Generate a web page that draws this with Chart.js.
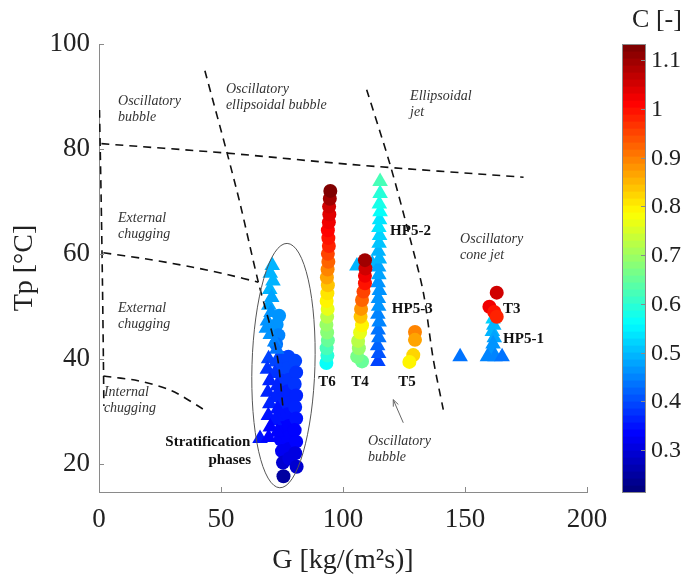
<!DOCTYPE html>
<html lang="en">
<head>
  <meta charset="UTF-8">
  <title>Flow regime map</title>
  <script src="https://cdn.jsdelivr.net/npm/chart.js"></script>
  <style>
    html, body { margin: 0; padding: 0; background: #fff; }
    #wrap { width: 689px; height: 583px; }
  </style>
</head>
<body>
<div id="wrap"><canvas id="regimeChart"></canvas></div>
<script>
  // ---- measured series: G [kg/(m2 s)], Tp [degC], C [-] ----
  const t6G  = [93.2, 93.6, 93.3, 93.8, 93.5, 93.2, 93.5, 93.7, 93.3, 93.6, 93.8, 93.4, 93.7, 94.0, 93.8, 94.2, 94.0, 93.8, 94.2, 94.4, 94.3, 94.6, 94.8];
  const t6Tp = [39.2, 40.6, 42.0, 43.5, 45.0, 46.5, 48.0, 49.5, 51.0, 52.5, 54.0, 55.5, 57.0, 58.5, 60.0, 61.5, 63.0, 64.5, 66.0, 67.5, 69.0, 70.5, 72.0];
  const t6C  = [0.57, 0.59, 0.62, 0.65, 0.68, 0.70, 0.73, 0.76, 0.79, 0.81, 0.84, 0.87, 0.90, 0.93, 0.96, 0.98, 1.00, 1.01, 1.02, 1.04, 1.06, 1.09, 1.12];

  const t4G  = [107.8, 105.8, 106.5, 106.2, 107.0, 107.8, 107.2, 107.4, 107.8, 108.4, 109.0, 109.0, 109.2, 109.0];
  const t4Tp = [39.5, 40.4, 42.0, 43.4, 45.0, 46.4, 48.0, 49.5, 51.2, 52.8, 54.4, 55.8, 57.2, 58.8];
  const t4C  = [0.65, 0.66, 0.69, 0.72, 0.76, 0.79, 0.84, 0.88, 0.92, 0.96, 1.00, 1.02, 1.05, 1.10];

  const t5G  = [129.5, 129.5, 128.8, 127.2];
  const t5Tp = [45.1, 43.6, 40.7, 39.4];
  const t5C  = [0.89, 0.87, 0.83, 0.80];

  const t3G  = [163.0, 160.0, 162.0, 163.0];
  const t3Tp = [52.6, 49.9, 48.9, 48.0];
  const t3C  = [1.06, 1.02, 1.00, 0.98];

  const hp52G  = [105.7, 112.0, 114.3, 114.6, 114.2, 114.7, 114.4, 114.8, 114.3, 114.6, 114.5, 114.9, 114.4, 114.7, 114.6, 114.9, 114.5, 114.8, 115.0, 114.7, 115.0, 115.2, 114.9, 115.2, 115.2];
  const hp52Tp = [57.7, 58.1, 39.5, 41.0, 42.5, 44.0, 45.5, 47.0, 48.5, 50.0, 51.5, 53.0, 54.5, 56.0, 57.5, 59.0, 60.5, 62.0, 63.5, 65.0, 66.5, 68.0, 69.5, 71.5, 73.8];
  const hp52C  = [0.50, 0.50, 0.40, 0.41, 0.42, 0.43, 0.44, 0.45, 0.45, 0.46, 0.46, 0.47, 0.47, 0.48, 0.48, 0.49, 0.50, 0.51, 0.52, 0.53, 0.54, 0.56, 0.58, 0.60, 0.62];

  const hp51G  = [161.5, 161.8, 161.2, 162.0, 161.5, 161.0, 159.2, 162.3, 165.2, 148.0];
  const hp51Tp = [47.6, 46.4, 45.2, 44.0, 42.8, 41.6, 40.4, 40.4, 40.4, 40.4];
  const hp51C  = [0.52, 0.50, 0.49, 0.48, 0.47, 0.46, 0.45, 0.45, 0.44, 0.44];

  // stratification phases, triangles and circles
  const stratTriG  = [71.0, 70.2, 71.3, 70.0, 70.8, 69.6, 70.5, 69.0, 68.6, 70.2, 72.0, 72.8,
                      69.5, 72.5, 69.0, 72.0, 70.0, 73.0, 69.2, 72.2, 70.0, 73.2, 69.4, 72.0, 70.2, 73.0, 66.0, 69.5];
  const stratTriTp = [57.8, 56.3, 54.8, 53.2, 51.7, 50.2, 48.8, 47.2, 45.8, 44.6, 43.2, 41.8,
                      40.0, 39.4, 38.0, 37.2, 35.8, 34.8, 33.6, 32.6, 31.4, 30.4, 29.2, 28.2, 27.0, 26.0, 24.8, 25.0];
  const stratTriC  = [0.50, 0.50, 0.49, 0.49, 0.48, 0.48, 0.47, 0.47, 0.46, 0.46, 0.45, 0.44,
                      0.40, 0.39, 0.38, 0.38, 0.37, 0.37, 0.37, 0.36, 0.36, 0.35, 0.35, 0.35, 0.34, 0.34, 0.35, 0.34];

  const stratCirG  = [73.8, 72.8, 73.5, 72.6,
                      74.8, 74.5, 75.0, 74.4, 75.0, 74.6, 75.2, 74.5, 75.0, 75.4, 75.6,
                      77.6, 77.2, 77.8, 77.4, 77.8, 77.2, 77.8, 77.4, 77.8, 78.0,
                      80.4, 80.8, 80.2, 80.8, 80.4, 80.8, 80.2, 80.8, 80.4, 81.0];
  const stratCirTp = [48.2, 46.5, 44.5, 42.8,
                      40.2, 38.0, 35.8, 33.5, 31.2, 29.0, 26.8, 24.6, 22.4, 20.2, 17.6,
                      40.4, 38.2, 36.0, 33.8, 31.6, 29.4, 27.2, 25.0, 22.8, 21.0,
                      39.6, 37.4, 35.2, 33.0, 30.8, 28.6, 26.4, 24.2, 22.0, 19.4];
  const stratCirC  = [0.47, 0.46, 0.45, 0.44,
                      0.40, 0.39, 0.38, 0.37, 0.36, 0.35, 0.34, 0.33, 0.32, 0.29, 0.25,
                      0.40, 0.39, 0.38, 0.37, 0.36, 0.35, 0.34, 0.33, 0.32, 0.31,
                      0.39, 0.38, 0.38, 0.37, 0.36, 0.35, 0.34, 0.33, 0.31, 0.29];

  // regime boundaries (G, Tp)
  const bndLeft     = [[0.2, 87.4], [0.9, 70], [1.4, 55], [1.8, 40], [2.0, 31]];
  const bndTop      = [[1, 81], [52.3, 79.2], [104.2, 77], [174, 74.6]];
  const bndEllBub   = [[43.4, 94.9], [52.5, 79.2], [57.8, 69.6], [65.3, 54.6], [72.8, 41.2], [75.5, 30.3]];
  const bndExtChug  = [[1.8, 60.2], [18.9, 59.05], [38, 57.5], [53, 56], [65.3, 54.6]];
  const bndIntChug  = [[1.8, 36.7], [16, 35.8], [29.8, 33.9], [43.4, 30.2]];
  const bndEllJet   = [[109.7, 91.3], [119.3, 77], [127.5, 62.9], [132.9, 52.7], [137, 39.9], [141.1, 30.3]];

  // axis ticks and colour scale
  const xTicks = [0, 50, 100, 150, 200];
  const yTicks = [20, 40, 60, 80, 100];
  const cbTicks = [0.3, 0.4, 0.5, 0.6, 0.7, 0.8, 0.9, 1, 1.1];
  const cMin = 0.214, cMax = 1.133;

  const serif = '"Liberation Serif", "Times New Roman", serif';

  // MATLAB-like 64 level jet
  function jet(c) {
    let t = (c - cMin) / (cMax - cMin);
    t = Math.min(1, Math.max(0, t));
    t = Math.floor(t * 63.999) / 63;
    const f = v => Math.round(255 * Math.min(1, Math.max(0, v)));
    return `rgb(${f(1.5 - Math.abs(4 * t - 3))},${f(1.5 - Math.abs(4 * t - 2))},${f(1.5 - Math.abs(4 * t - 1))})`;
  }

  const pts = (g, tp) => g.map((v, i) => ({ x: v, y: tp[i] }));

  function markerSet(g, tp, c, style) {
    const cols = c.map(jet);
    return {
      type: 'scatter',
      data: pts(g, tp),
      pointStyle: style,
      pointRadius: style === 'triangle' ? 9 : 7,
      pointBackgroundColor: cols,
      pointBorderColor: cols,
      pointBorderWidth: 0
    };
  }

  function boundary(arr) {
    return {
      type: 'line',
      data: arr.map(p => ({ x: p[0], y: p[1] })),
      borderColor: '#111',
      borderWidth: 1.6,
      borderDash: [8, 6],
      pointRadius: 0,
      tension: 0.3,
      fill: false
    };
  }

  const regimeLabels = [
    { g: 7.8,   tp: 89.1, lines: ['Oscillatory', 'bubble'] },
    { g: 52,    tp: 91.4, lines: ['Oscillatory', 'ellipsoidal bubble'] },
    { g: 127.5, tp: 90.0, lines: ['Ellipsoidal', 'jet'] },
    { g: 7.8,   tp: 66.7, lines: ['External', 'chugging'] },
    { g: 7.8,   tp: 49.7, lines: ['External', 'chugging'] },
    { g: 2.0,   tp: 33.6, lines: ['Internal', 'chugging'] },
    { g: 148,   tp: 62.7, lines: ['Oscillatory', 'cone jet'] },
    { g: 110.2, tp: 24.2, lines: ['Oscillatory', 'bubble'] }
  ];

  const seriesLabels = [
    { g: 93.4,  tp: 35.5, text: 'T6', align: 'center' },
    { g: 107,   tp: 35.5, text: 'T4', align: 'center' },
    { g: 126.2, tp: 35.5, text: 'T5', align: 'center' },
    { g: 119.3, tp: 64.4, text: 'HP5-2', align: 'left' },
    { g: 120,   tp: 49.5, text: 'HP5-3', align: 'left' },
    { g: 165.6, tp: 49.5, text: 'T3', align: 'left' },
    { g: 165.6, tp: 43.7, text: 'HP5-1', align: 'left' },
    { g: 62,    tp: 24.2, text: 'Stratification', align: 'right' },
    { g: 62.3,  tp: 20.6, text: 'phases', align: 'right' }
  ];

  // ellipse, arrow, text, inward ticks and the colour bar
  const overlay = {
    id: 'overlay',
    afterDatasetsDraw(chart) {
      const { ctx, chartArea: a, scales: { x, y } } = chart;
      ctx.save();

      // stratification ellipse
      const cx = x.getPixelForValue(75.6), cy = y.getPixelForValue(38.7);
      const rx = x.getPixelForValue(75.6 + 12.9) - cx;
      const ry = cy - y.getPixelForValue(38.7 + 23.3);
      ctx.strokeStyle = '#555';
      ctx.lineWidth = 1;
      ctx.beginPath();
      ctx.ellipse(cx, cy, rx, ry, 0.03, 0, Math.PI * 2);
      ctx.stroke();

      // pointer to the lower oscillatory bubble region
      const hx = x.getPixelForValue(120.6), hy = y.getPixelForValue(32.2);
      const tx = x.getPixelForValue(124.7), ty = y.getPixelForValue(27.8);
      const ang = Math.atan2(hy - ty, hx - tx);
      ctx.strokeStyle = '#666';
      ctx.beginPath();
      ctx.moveTo(tx, ty); ctx.lineTo(hx, hy);
      ctx.moveTo(hx - 7 * Math.cos(ang - 0.4), hy - 7 * Math.sin(ang - 0.4));
      ctx.lineTo(hx, hy);
      ctx.lineTo(hx - 7 * Math.cos(ang + 0.4), hy - 7 * Math.sin(ang + 0.4));
      ctx.stroke();

      // regime names
      ctx.fillStyle = '#333';
      ctx.font = 'italic 14px ' + serif;
      ctx.textAlign = 'left';
      ctx.textBaseline = 'middle';
      regimeLabels.forEach(l => {
        const px = x.getPixelForValue(l.g), py = y.getPixelForValue(l.tp);
        l.lines.forEach((s, i) => ctx.fillText(s, px, py + i * 16));
      });

      // test labels
      ctx.fillStyle = '#111';
      ctx.font = 'bold 15px ' + serif;
      seriesLabels.forEach(l => {
        ctx.textAlign = l.align;
        ctx.fillText(l.text, x.getPixelForValue(l.g), y.getPixelForValue(l.tp));
      });

      // inward tick marks
      ctx.strokeStyle = '#8a8a8a';
      ctx.lineWidth = 1;
      ctx.beginPath();
      xTicks.forEach(v => {
        const px = Math.round(x.getPixelForValue(v)) + 0.5;
        ctx.moveTo(px, a.bottom); ctx.lineTo(px, a.bottom - 5);
      });
      yTicks.forEach(v => {
        const py = Math.round(y.getPixelForValue(v)) + 0.5;
        ctx.moveTo(a.left, py); ctx.lineTo(a.left + 5, py);
      });
      ctx.stroke();

      // colour bar
      const bx = 622, bw = 23, top = a.top, bot = a.bottom;
      const n = 64, h = (bot - top) / n;
      for (let i = 0; i < n; i++) {
        const c = cMin + (i + 0.5) / n * (cMax - cMin);
        ctx.fillStyle = jet(c);
        ctx.fillRect(bx, bot - (i + 1) * h, bw, h + 0.6);
      }
      ctx.strokeStyle = '#8a8a8a';
      ctx.strokeRect(bx + 0.5, top + 0.5, bw, bot - top);
      ctx.fillStyle = '#222';
      ctx.font = '24px ' + serif;
      ctx.textAlign = 'left';
      ctx.textBaseline = 'middle';
      ctx.beginPath();
      cbTicks.forEach(v => {
        const py = Math.round(bot - (v - cMin) / (cMax - cMin) * (bot - top)) + 0.5;
        ctx.moveTo(bx + bw, py); ctx.lineTo(bx + bw - 4, py);
        ctx.fillText(String(v), 651, py);
      });
      ctx.stroke();
      ctx.font = '26px ' + serif;
      ctx.textAlign = 'center';
      ctx.fillText('C [-]', 657, 20);

      ctx.restore();
    }
  };

  const datasets = [
    boundary(bndLeft), boundary(bndTop), boundary(bndEllBub),
    boundary(bndExtChug), boundary(bndIntChug), boundary(bndEllJet),
    markerSet(t3G, t3Tp, t3C, 'circle'),
    markerSet(t5G, t5Tp, t5C, 'circle'),
    markerSet(hp51G, hp51Tp, hp51C, 'triangle'),
    markerSet(t4G, t4Tp, t4C, 'circle'),
    markerSet(hp52G, hp52Tp, hp52C, 'triangle'),
    markerSet(t6G, t6Tp, t6C, 'circle'),
    markerSet(stratTriG, stratTriTp, stratTriC, 'triangle'),
    markerSet(stratCirG, stratCirTp, stratCirC, 'circle')
  ];

  new Chart(document.getElementById('regimeChart'), {
    type: 'scatter',
    data: { datasets },
    options: {
      responsive: true,
      maintainAspectRatio: false,
      animation: false,
      layout: { padding: { left: 0, top: 44, right: 102, bottom: 0 } },
      plugins: { legend: { display: false }, tooltip: { enabled: false } },
      scales: {
        x: {
          type: 'linear', min: 0, max: 200,
          afterBuildTicks: s => { s.ticks = xTicks.map(v => ({ value: v })); },
          afterFit: s => { s.height = 91; },
          grid: { display: false, drawTicks: false },
          border: { display: true, color: '#8a8a8a', width: 1 },
          ticks: { color: '#222', padding: 12, font: { family: serif, size: 27 } },
          title: { display: true, text: 'G [kg/(m²s)]', color: '#222', padding: { top: 0, bottom: 6 }, font: { family: serif, size: 28 } }
        },
        y: {
          type: 'linear', min: 14.6, max: 100,
          afterBuildTicks: s => { s.ticks = yTicks.map(v => ({ value: v })); },
          afterFit: s => { s.width = 99; },
          grid: { display: false, drawTicks: false },
          border: { display: true, color: '#8a8a8a', width: 1 },
          ticks: { color: '#222', padding: 9, font: { family: serif, size: 27 } },
          title: { display: true, text: 'Tp [°C]', color: '#222', padding: { top: 8, bottom: 0 }, font: { family: serif, size: 28 } }
        }
      }
    },
    plugins: [overlay]
  });
</script>
</body>
</html>
